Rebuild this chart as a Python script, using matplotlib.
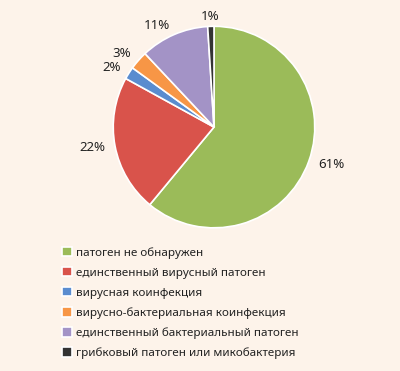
import matplotlib
matplotlib.use("Agg")
import matplotlib.pyplot as plt

categories = [
    "патоген не обнаружен",
    "единственный вирусный патоген",
    "вирусная коинфекция",
    "вирусно-бактериальная коинфекция",
    "единственный бактериальный патоген",
    "грибковый патоген или микобактерия",
]
shares = [61, 22, 2, 3, 11, 1]
colors = ["#9bbb59", "#d9534b", "#5a8ccf", "#f79646", "#a393c6", "#333333"]

bg = "#fdf3ea"
plt.rcParams["font.family"] = ["Noto Sans", "DejaVu Sans"]

fig = plt.figure(figsize=(4.0, 3.71), dpi=100, facecolor=bg)
# pie limits are +-1.25, so width 0.63 of 400px gives radius ~101px
ax = fig.add_axes([0.22, 0.318, 0.63, 0.679])
ax.set_facecolor(bg)

wedges, texts = ax.pie(
    shares,
    labels=[f"{v}%" for v in shares],
    colors=colors,
    startangle=90,
    counterclock=False,
    labeldistance=1.1,
    wedgeprops=dict(edgecolor="white", linewidth=1.2),
    textprops=dict(fontsize=9.5, color="#222222"),
)
# labels near the top sit centred over their slice
for t in texts:
    x, y = t.get_position()
    if abs(x) < 0.33:
        t.set_horizontalalignment("center")
ax.set_aspect("equal")

fig.legend(
    wedges,
    categories,
    loc="upper left",
    bbox_to_anchor=(0.14, 0.35),
    frameon=False,
    fontsize=8.4,
    handlelength=0.85,
    handleheight=0.85,
    handletextpad=0.35,
    labelspacing=0.72,
    borderpad=0,
    labelcolor="#222222",
)

fig.savefig("out.png", dpi=100, facecolor=bg)
